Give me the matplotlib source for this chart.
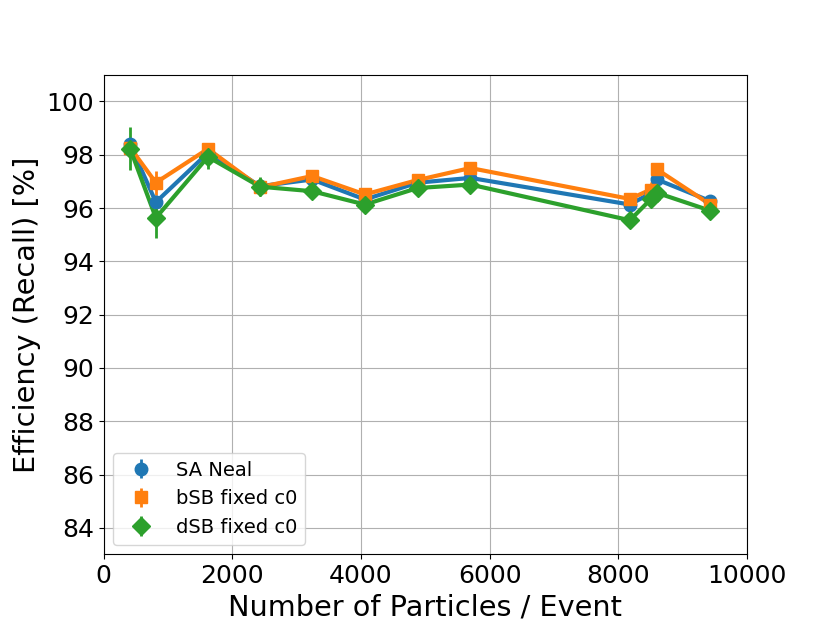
import numpy as np
import matplotlib.pyplot as plt

# Datos
particulas = [410, 810, 1620, 2430, 3240, 4060, 4880, 5700, 8180, 8500, 8600, 9430]

sa_neal = [98.39, 96.22, 98.07, 96.82, 97.07, 96.32, 96.95, 97.13, 96.13, 96.55, 97.07, 96.26]
sa_neal_err = [0.2, 0.25, 0.2, 0.15, 0.15, 0.15, 0.12, 0.12, 0.15, 0.12, 0.12, 0.1]

bsb = [98.27, 96.95, 98.22, 96.78, 97.2, 96.51, 97.05, 97.5, 96.34, 96.69, 97.45, 96.13]
bsb_err = [0.3, 0.45, 0.2, 0.2, 0.2, 0.15, 0.15, 0.1, 0.15, 0.12, 0.12, 0.1]

dsb = [98.23, 95.63, 97.92, 96.8, 96.63, 96.13, 96.75, 96.88, 95.54, 96.32, 96.57, 95.9]
dsb_err = [0.8, 0.75, 0.47, 0.35, 0.3, 0.2, 0.15, 0.15, 0.15, 0.15, 0.15, 0.1]

fig, ax = plt.subplots(figsize=(8.3, 6.23), dpi=100)

# Lineas sin etiqueta, puntos con barras de error para la leyenda
ax.plot(particulas, sa_neal, '-', color='#1f77b4', lw=3)
ax.errorbar(particulas, sa_neal, yerr=sa_neal_err, fmt='o', color='#1f77b4', ms=9, lw=2, label='SA Neal')
ax.plot(particulas, bsb, '-', color='#ff7f0e', lw=3)
ax.errorbar(particulas, bsb, yerr=bsb_err, fmt='s', color='#ff7f0e', ms=9, lw=2, label='bSB fixed c0')
ax.plot(particulas, dsb, '-', color='#2ca02c', lw=3)
ax.errorbar(particulas, dsb, yerr=dsb_err, fmt='D', color='#2ca02c', ms=9, lw=2, label='dSB fixed c0')

ax.set_xlim(0, 10000)
ax.set_ylim(83, 101)
ax.set_yticks(np.arange(84, 101, 2))
ax.set_xlabel('Number of Particles / Event', fontsize=20.7)
ax.set_ylabel('Efficiency (Recall) [%]', fontsize=20.7)
ax.tick_params(labelsize=18)
ax.grid(True, color='#b0b0b0')
ax.legend(loc='lower left', fontsize=14)

plt.savefig('out.png')
